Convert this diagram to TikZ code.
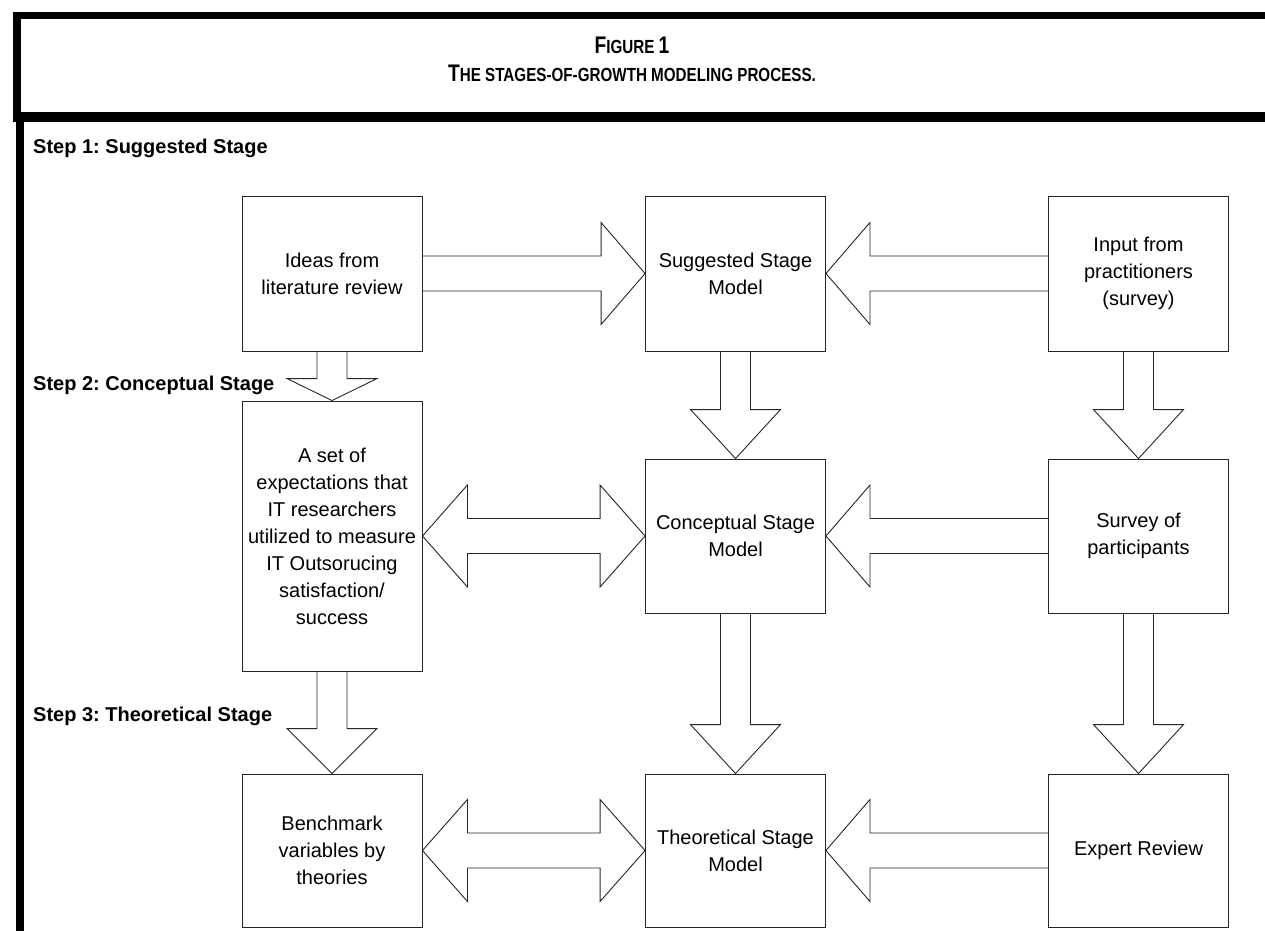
\documentclass[tikz,border=0pt]{standalone}
\usepackage{fontspec}
\setmainfont{Liberation Sans}
\usetikzlibrary{calc}
\pgfdeclarelayer{bg}
\pgfsetlayers{bg,main}
\frenchspacing
\newcommand{\bigc}[1]{{\fontsize{24}{24}\selectfont #1}}
\newcommand{\arrR}[2]{\draw[barrow] ($(#1)+(0,-17.5)$) -- ($(#2)+(-44,-17.5)$) -- ($(#2)+(-44,-51)$) -- (#2) -- ($(#2)+(-44,51)$) -- ($(#2)+(-44,17.5)$) -- ($(#1)+(0,17.5)$);}
\newcommand{\arrL}[2]{\draw[barrow] ($(#1)+(0,-17.5)$) -- ($(#2)+(44,-17.5)$) -- ($(#2)+(44,-51)$) -- (#2) -- ($(#2)+(44,51)$) -- ($(#2)+(44,17.5)$) -- ($(#1)+(0,17.5)$);}
\newcommand{\arrLR}[2]{\draw[barrow] (#1) -- ($(#1)+(45,-51)$) -- ($(#1)+(45,-17.5)$) -- ($(#2)+(-45,-17.5)$) -- ($(#2)+(-45,-51)$) -- (#2) -- ($(#2)+(-45,51)$) -- ($(#2)+(-45,17.5)$) -- ($(#1)+(45,17.5)$) -- ($(#1)+(45,51)$) -- cycle;}
\newcommand{\arrD}[3]{\draw[barrow] ($(#1)+(-15,0)$) -- ($(#2)+(-15,-#3)$) -- ($(#2)+(-45,-#3)$) -- (#2) -- ($(#2)+(45,-#3)$) -- ($(#2)+(15,-#3)$) -- ($(#1)+(15,0)$);}
\begin{document}
\begin{tikzpicture}[x=1pt,y=-1pt,
  box/.style={draw=black!85, line width=0.9pt, fill=white, minimum width=180pt, inner sep=0pt, align=center, font=\fontsize{20}{27}\selectfont},
  barrow/.style={draw=black!85, line width=0.9pt, fill=white, line join=miter},
  steplabel/.style={anchor=base west, inner sep=0pt, font=\bfseries\fontsize{20}{24}\selectfont},
  titletext/.style={inner sep=0pt, font=\bfseries\fontsize{19}{19}\selectfont},
  bar/.style={fill=black, draw=none}]
\useasboundingbox (0,0) rectangle (1265,931);
% frame bars
\fill[bar] (13,12) rectangle (1265,19.5);
\fill[bar] (13,12) rectangle (21,118);
\fill[bar] (13,112) rectangle (1265,122);
\fill[bar] (16,122) rectangle (24,931);
% title
\node[titletext] (t1) at (632,45) {\scalebox{0.8}[1]{\bigc{F}IGURE \bigc{1}}};
\node[titletext] (t2) at (632,73) {\scalebox{0.8}[1]{\bigc{T}HE STAGES-OF-GROWTH MODELING PROCESS.}};
% step labels
\node[steplabel] (s1) at (33,153) {Step 1: Suggested Stage};
\node[steplabel] (s2) at (33,390) {Step 2: Conceptual Stage};
\node[steplabel] (s3) at (33,721) {Step 3: Theoretical Stage};
% boxes
\node[box, minimum height=155pt] (ideas) at (332,273.5) {Ideas from\\literature review};
\node[box, minimum height=155pt] (sugg) at (735.5,273.5) {Suggested Stage\\Model};
\node[box, minimum height=155pt] (input) at (1138.5,273.5) {Input from\\practitioners\\(survey)};
\node[box, minimum height=270pt] (set) at (332,536) {A set of\\expectations that\\IT researchers\\utilized to measure\\IT Outsorucing\\satisfaction/\\success};
\node[box, minimum height=154pt] (conc) at (735.5,536) {Conceptual Stage\\Model};
\node[box, minimum height=154pt] (surv) at (1138.5,536) {Survey of\\participants};
\node[box, minimum height=153pt] (bench) at (332,850.5) {Benchmark\\variables by\\theories};
\node[box, minimum height=153pt] (theo) at (735.5,850.5) {Theoretical Stage\\Model};
\node[box, minimum height=153pt] (expert) at (1138.5,850.5) {Expert Review};
\begin{pgfonlayer}{bg}
% horizontal arrows
\arrR{ideas.east}{sugg.west}
\arrL{input.west}{sugg.east}
\arrLR{set.east |- conc.west}{conc.west}
\arrL{surv.west}{conc.east}
\arrLR{bench.east}{theo.west}
\arrL{expert.west}{theo.east}
% vertical arrows
\arrD{ideas.south}{set.north}{22}
\arrD{sugg.south}{conc.north}{49}
\arrD{input.south}{surv.north}{49}
\arrD{set.south}{bench.north}{45}
\arrD{conc.south}{theo.north}{49}
\arrD{surv.south}{expert.north}{49}
\end{pgfonlayer}
\end{tikzpicture}
\end{document}
